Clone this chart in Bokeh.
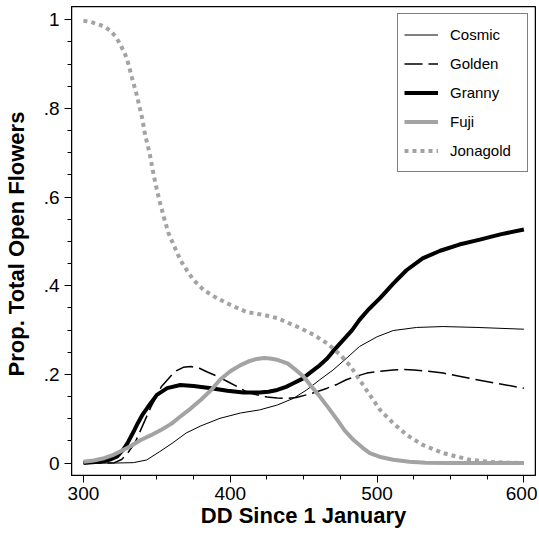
from bokeh.plotting import figure
from bokeh.models import Range1d, FixedTicker, Legend, LegendItem, BoxAnnotation
from bokeh.embed import file_html
from bokeh.resources import INLINE

# ---- data ----
cosmic_x = [300, 320, 334, 343, 352, 361, 370, 380, 393, 407, 420, 432, 443, 452, 461, 470, 479, 488, 500, 511, 527, 545, 568, 600]
cosmic_y = [0, 0, 0.001, 0.007, 0.026, 0.046, 0.068, 0.084, 0.101, 0.113, 0.120, 0.131, 0.146, 0.165, 0.188, 0.210, 0.236, 0.263, 0.285, 0.299, 0.306, 0.308, 0.306, 0.302]

golden_x = [300, 315, 321, 326, 330, 335, 339, 346, 353, 362, 368, 373, 379, 384, 391, 398, 405, 411, 418, 425, 432, 439, 445, 452, 459, 466, 473, 479, 486, 493, 502, 511, 518, 525, 535, 545, 556, 568, 583, 600]
golden_y = [0, 0, 0.001, 0.008, 0.022, 0.045, 0.075, 0.127, 0.172, 0.206, 0.216, 0.218, 0.214, 0.206, 0.196, 0.184, 0.172, 0.161, 0.154, 0.149, 0.147, 0.146, 0.148, 0.154, 0.161, 0.169, 0.178, 0.188, 0.196, 0.203, 0.207, 0.210, 0.211, 0.210, 0.207, 0.203, 0.196, 0.188, 0.179, 0.169]

granny_x = [300, 314, 318, 323, 327, 330, 334, 337, 340, 344, 350, 357, 366, 375, 387, 398, 409, 420, 426, 432, 438, 443, 449, 454, 460, 466, 471, 477, 483, 488, 494, 502, 511, 520, 531, 543, 556, 570, 584, 600]
granny_y = [0, 0.004, 0.008, 0.015, 0.03, 0.045, 0.07, 0.09, 0.108, 0.127, 0.154, 0.169, 0.176, 0.174, 0.169, 0.163, 0.159, 0.159, 0.161, 0.165, 0.172, 0.180, 0.19, 0.203, 0.218, 0.236, 0.256, 0.278, 0.30, 0.323, 0.346, 0.372, 0.405, 0.435, 0.462, 0.479, 0.493, 0.504, 0.516, 0.527]

fuji_x = [300, 307, 314, 320, 325, 332, 339, 346, 353, 360, 366, 373, 380, 387, 393, 400, 407, 413, 418, 423, 427, 432, 439, 444, 450, 455, 461, 467, 473, 478, 484, 490, 495, 503, 511, 522, 533, 550, 570, 600]
fuji_y = [0.003, 0.006, 0.011, 0.018, 0.026, 0.038, 0.052, 0.063, 0.075, 0.089, 0.105, 0.123, 0.143, 0.165, 0.188, 0.207, 0.221, 0.230, 0.235, 0.237, 0.236, 0.233, 0.225, 0.212, 0.195, 0.174, 0.150, 0.124, 0.097, 0.073, 0.052, 0.035, 0.0225, 0.013, 0.0075, 0.003, 0.001, 0.0, 0.0, 0.0]

jona_x = [300, 305, 310, 314, 318, 322, 325, 328, 330, 333, 336, 340, 342, 345, 347, 349, 352, 355, 358, 362, 366, 371, 375, 382, 391, 400, 411, 423, 432, 439, 448, 457, 466, 475, 482, 488, 495, 502, 511, 520, 531, 545, 563, 579, 600]
jona_y = [0.998, 0.995, 0.99, 0.985, 0.976, 0.962, 0.945, 0.925, 0.908, 0.870, 0.834, 0.778, 0.740, 0.700, 0.664, 0.631, 0.589, 0.552, 0.518, 0.488, 0.458, 0.432, 0.413, 0.390, 0.372, 0.357, 0.341, 0.334, 0.327, 0.317, 0.304, 0.289, 0.270, 0.244, 0.218, 0.188, 0.154, 0.120, 0.090, 0.064, 0.041, 0.0225, 0.0075, 0.002, 0.0]

x_major = [300, 400, 500, 600]
x_minor = [325, 350, 375, 425, 450, 475, 525, 550, 575]
y_major = [0, 0.2, 0.4, 0.6, 0.8, 1.0]
y_labels = ["0", ".2", ".4", ".6", ".8", "1"]
y_minor = [0.05, 0.1, 0.15, 0.25, 0.3, 0.35, 0.45, 0.5, 0.55, 0.65, 0.7, 0.75, 0.85, 0.9, 0.95]

FONT = "Liberation Sans"
GRAY = "#a3a3a3"

p = figure(width=537, height=531, output_backend="svg", toolbar_location=None,
           x_range=Range1d(291.85, 607.9), y_range=Range1d(-0.028, 1.030),
           min_border_left=71, min_border_right=2, min_border_top=6, min_border_bottom=56)
p.outline_line_color = "black"
p.outline_line_width = 1
p.xgrid.visible = False
p.ygrid.visible = False

r_c = p.line(cosmic_x, cosmic_y, line_color="black", line_width=1, line_join="round")
r_g = p.line(golden_x, golden_y, line_color="black", line_width=1.5, line_dash="18 6", line_join="round")
r_gr = p.line(granny_x, granny_y, line_color="black", line_width=4, line_join="round")
r_f = p.line(fuji_x, fuji_y, line_color=GRAY, line_width=4, line_join="round")
r_j = p.line(jona_x, jona_y, line_color=GRAY, line_width=4, line_dash="4 4")

# frame drawn again as an annotation
p.add_layout(BoxAnnotation(fill_alpha=0, line_color="black", line_width=1.5, line_alpha=1))

for ax in (p.xaxis[0], p.yaxis[0]):
    ax.axis_line_color = "black"
    ax.major_tick_line_color = "black"
    ax.minor_tick_line_color = "black"
    ax.major_tick_in = 0
    ax.minor_tick_in = 0
    ax.major_tick_out = 7
    ax.minor_tick_out = 4
    ax.major_label_text_font = FONT
    ax.major_label_text_font_size = "19px"
    ax.major_label_text_color = "black"
    ax.axis_label_text_font = FONT
    ax.axis_label_text_font_size = "22px"
    ax.axis_label_text_font_style = "bold"
    ax.axis_label_text_color = "black"

p.xaxis[0].ticker = FixedTicker(ticks=x_major, minor_ticks=x_minor)
p.yaxis[0].ticker = FixedTicker(ticks=y_major, minor_ticks=y_minor)
p.yaxis[0].major_label_overrides = {v: s for v, s in zip(y_major, y_labels)}
p.yaxis[0].major_label_orientation = "horizontal"
p.xaxis[0].axis_label = "DD Since 1 January"
p.yaxis[0].axis_label = "Prop. Total  Open Flowers"
p.xaxis[0].major_label_standoff = 4
p.xaxis[0].axis_label_standoff = 0
p.yaxis[0].major_label_standoff = 5
p.yaxis[0].axis_label_standoff = 12

legend = Legend(items=[
    LegendItem(label="Cosmic", renderers=[r_c]),
    LegendItem(label="Golden", renderers=[r_g]),
    LegendItem(label="Granny", renderers=[r_gr]),
    LegendItem(label="Fuji", renderers=[r_f]),
    LegendItem(label="Jonagold", renderers=[r_j]),
], location="top_right")
legend.margin = 7
legend.padding = 6
legend.spacing = 0
legend.label_height = 29
legend.glyph_height = 29
legend.glyph_width = 34
legend.label_width = 71
legend.label_standoff = 12
legend.label_text_font = FONT
legend.label_text_font_size = "15px"
legend.label_text_color = "black"
legend.border_line_color = "black"
p.add_layout(legend)

open("out.html", "w").write(file_html(p, INLINE))
